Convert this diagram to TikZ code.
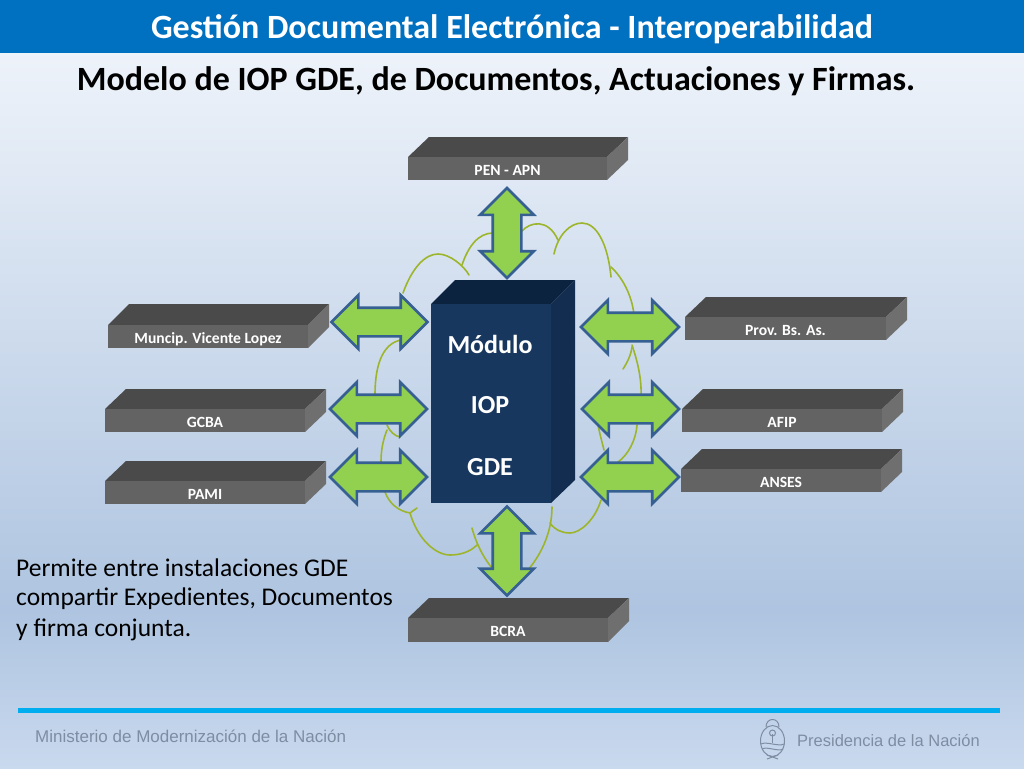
\documentclass[tikz,border=0pt]{standalone}
\usepackage{fontspec}
\setmainfont{Carlito}
\newfontfamily\footfont{Liberation Sans}
\usetikzlibrary{shapes.arrows}
\definecolor{barblue}{HTML}{0070C0}
\definecolor{rulecyan}{HTML}{00AEEF}
\definecolor{bgtop}{HTML}{EEF3FA}
\definecolor{bgmid}{HTML}{AEC4E0}
\definecolor{bgbot}{HTML}{C9D9EE}
\definecolor{boxfront}{HTML}{636363}
\definecolor{boxtop}{HTML}{4A4A4A}
\definecolor{boxside}{HTML}{6F6F6F}
\definecolor{modfront}{HTML}{17375E}
\definecolor{modtop}{HTML}{0C2340}
\definecolor{modside}{HTML}{122D4F}
\definecolor{arrowfill}{HTML}{92D050}
\definecolor{arrowline}{HTML}{376092}
\definecolor{cloudline}{HTML}{9DB52A}
\definecolor{footgray}{HTML}{7F8DA3}
\tikzset{
  x=1pt,y=-1pt,
  frontbox/.style={inner sep=0pt,text=white,font=\bfseries\fontsize{15.6}{17}\selectfont,text height=10pt,text depth=3pt,yshift=-3pt},
  linkarrow/.style={shape=double arrow,double arrow head extend=12.5pt,double arrow tip angle=90,inner sep=13pt,fill=arrowfill,draw=arrowline,line width=2.6pt,line join=miter},
  cloudarc/.style={draw=cloudline,line width=1.6pt,line cap=round},
  foottext/.style={font=\footfont,text=footgray,inner sep=0pt},
  modtext/.style={text=white,font=\bfseries\fontsize{26}{28}\selectfont,inner sep=0pt},
  bodytext/.style={text=black,font=\fontsize{25.5}{31}\selectfont,inner sep=0pt,anchor=west},
  crest/.style={draw=footgray,line width=1pt}
}
% name, x left, x right, y back-top, y front-top, y bottom, text
\newcommand{\slab}[7]{%
  \fill[boxtop] (#2,#5) -- (#2+21,#4) -- (#3+21,#4) -- (#3,#5) -- cycle;
  \fill[boxside] (#3,#5) -- (#3+21,#4) -- (#3+21,#4+23) -- (#3,#6) -- cycle;
  \fill[boxfront] (#2,#5) rectangle (#3,#6);
  \node[frontbox] (#1) at ({(#2+#3)/2},{(#5+#6)/2}) {#7};
}
\begin{document}
\begin{tikzpicture}
\useasboundingbox (0,0) rectangle (1024,768);
\fill[top color=bgtop,bottom color=bgmid] (0,50) rectangle (1024,610);
\fill[top color=bgmid,bottom color=bgbot] (0,610) rectangle (1024,768);
\fill[barblue] (0,0) rectangle (1024,53);
\node[text=white,font=\bfseries\fontsize{34}{38}\selectfont,inner sep=0pt] (title) at (512,29) {Gestión Documental Electrónica - Interoperabilidad};
\node[text=black,font=\bfseries\fontsize{34}{38}\selectfont,inner sep=0pt] (subtitle) at (496,81) {Modelo de IOP GDE, de Documentos, Actuaciones y Firmas.};

% cloud outline
\draw[cloudarc] (403,293) .. controls (412,268) and (425,254) .. (438,254) .. controls (450,254) and (464,266) .. (469,275);
\draw[cloudarc] (462,265) .. controls (468,247) and (478,233) .. (493,233);
\draw[cloudarc] (522,231) .. controls (530,222) and (548,218) .. (558,240);
\draw[cloudarc] (554,254) .. controls (558,235) and (570,223) .. (582,223) .. controls (597,223) and (608,245) .. (611,277);
\draw[cloudarc] (611,267) .. controls (622,277) and (632,295) .. (634,315);
\draw[cloudarc] (632,345) .. controls (637,360) and (642,378) .. (641,398);
\draw[cloudarc] (632,347) .. controls (631,355) and (627,363) .. (623,369);
\draw[cloudarc] (637,425) .. controls (636,440) and (628,455) .. (618,462);
\draw[cloudarc] (598,425) .. controls (600,435) and (602,442) .. (604,450);
\draw[cloudarc] (601,500) .. controls (595,520) and (580,533) .. (570,533) .. controls (562,533) and (555,530) .. (550,523);
\draw[cloudarc] (552,507) .. controls (552,530) and (543,552) .. (528,570);
\draw[cloudarc] (400,350) -- (400,340) .. controls (385,344) and (375,360) .. (375,395);
\draw[cloudarc] (387,425) .. controls (390,432) and (395,436) .. (400,437);
\draw[cloudarc] (387,430) .. controls (383,440) and (381,450) .. (381,462);
\draw[cloudarc] (385,492) .. controls (389,503) and (398,511) .. (410,513);
\draw[cloudarc] (417,508) -- (410,513) .. controls (418,540) and (436,555) .. (450,555) .. controls (460,555) and (470,552) .. (477,545);
\draw[cloudarc] (472,528) .. controls (475,540) and (482,556) .. (492,568);

% slabs
\slab{pen}{408}{607}{137}{157}{180}{PEN - APN}
\slab{bcra}{408}{608}{598}{618}{642}{BCRA}
\slab{muni}{108}{308}{304}{325}{348}{Muncip. Vicente Lopez}
\slab{gcba}{105}{305}{389}{409}{432}{GCBA}
\slab{pami}{105}{305}{461}{481}{504}{PAMI}
\slab{prov}{685}{886}{297}{317}{340}{Prov. Bs. As.}
\slab{afip}{682}{882}{389}{409}{432}{AFIP}
\slab{anses}{681}{881}{449}{469}{492}{ANSES}

% central module
\fill[modtop] (431,304) -- (455,280) -- (575,280) -- (551,304) -- cycle;
\fill[modside] (551,304) -- (575,280) -- (575,480) -- (551,503) -- cycle;
\fill[modfront] (431,304) rectangle (551,503);
\node[modtext] (modA) at (490,344) {Módulo};
\node[modtext] (modB) at (490,405) {IOP};
\node[modtext] (modC) at (490,467) {GDE};

% block arrows
\node[linkarrow,minimum height=90pt,shape border rotate=90] (ap) at (507,233) {};
\node[linkarrow,minimum height=89pt,shape border rotate=90] (ab) at (507,551) {};
\node[linkarrow,minimum height=96pt] (al1) at (379.5,322) {};
\node[linkarrow,minimum height=97pt] (al2) at (378.5,409) {};
\node[linkarrow,minimum height=97pt] (al3) at (378.5,477) {};
\node[linkarrow,minimum height=98pt] (ar1) at (630,327) {};
\node[linkarrow,minimum height=97pt] (ar2) at (630.5,409) {};
\node[linkarrow,minimum height=98pt] (ar3) at (630,477) {};

% body text
\node[bodytext] (b1) at (16,568) {Permite entre instalaciones GDE};
\node[bodytext] (b2) at (16,599) {compartir Expedientes, Documentos};
\node[bodytext] (b3) at (16,630) {y firma conjunta.};

% footer
\fill[rulecyan] (18,708) rectangle (1000,712.5);
\node[foottext,anchor=west,font=\footfont\fontsize{17}{19}\selectfont] (f1) at (35,736) {Ministerio de Modernización de la Nación};
\node[foottext,anchor=west,font=\footfont\fontsize{16.5}{19}\selectfont] (f2) at (797,740) {Presidencia de la Nación};
\draw[crest] (772.5,741) ellipse (12 and 15.5);
\draw[crest] (766,727) .. controls (766,717) and (779,717) .. (779,727);
\draw[crest] (761,744) .. controls (766,741) and (779,747) .. (784,744);
\draw[crest] (762,749) .. controls (767,746) and (778,752) .. (783,749);
\draw[crest] (772.5,734) -- (772.5,743);
\draw[crest] (772.5,733) circle (3);
\draw[crest] (767,759) -- (778,755) (767,755) -- (778,759);
\end{tikzpicture}
\end{document}
